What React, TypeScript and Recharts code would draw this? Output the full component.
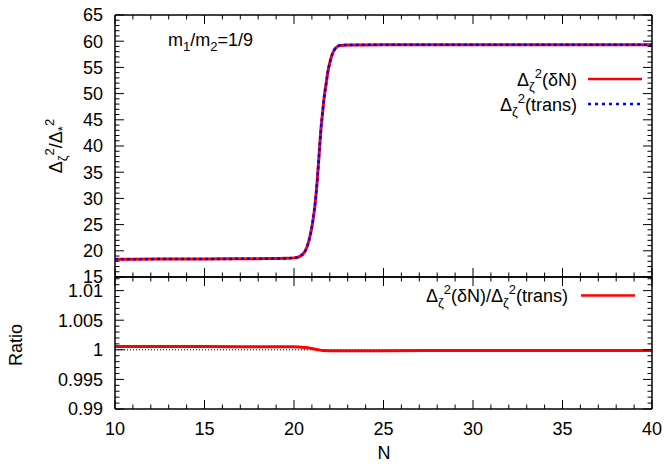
import React from 'react';
import { LineChart, Line, XAxis, YAxis, ReferenceLine } from 'recharts';

// top panel: Delta_zeta^2 / Delta_*^2 vs N
const nCurve = [10, 12, 14, 16, 18, 19, 19.5, 20, 20.3, 20.6, 20.86, 21.0, 21.14, 21.3, 21.42, 21.5, 21.6, 21.69, 21.8, 21.88, 22.0, 22.16, 22.3, 22.45, 22.6, 23, 25, 30, 35, 40];
const deltaN = [18.4, 18.42, 18.44, 18.46, 18.5, 18.53, 18.56, 18.65, 18.9, 19.8, 22.3, 24.6, 27.8, 33.5, 39.2, 43.0, 46.5, 49.4, 52.0, 53.9, 55.9, 57.7, 58.6, 59.05, 59.2, 59.28, 59.3, 59.3, 59.3, 59.3];
const trans = [18.39, 18.41, 18.43, 18.45, 18.49, 18.52, 18.55, 18.64, 18.89, 19.79, 22.29, 24.6, 27.8, 33.5, 39.2, 43.0, 46.5, 49.4, 52.0, 53.9, 55.9, 57.7, 58.6, 59.06, 59.21, 59.29, 59.31, 59.31, 59.31, 59.31];

// bottom panel: ratio
const nRatio = [10, 15, 19, 19.9, 20.3, 20.67, 21.0, 21.3, 21.6, 22, 25, 30, 35, 40];
const ratio = [1.00055, 1.00054, 1.00052, 1.0005, 1.00046, 1.0004, 1.00022, 1.00005, 0.99988, 0.99986, 0.99986, 0.99987, 0.99987, 0.99987];

const xMajor = [10, 15, 20, 25, 30, 35, 40];
const yMajor = [15, 20, 25, 30, 35, 40, 45, 50, 55, 60, 65];
const rMajor = [0.99, 0.995, 1, 1.005, 1.01];
const rLabels = ['0.99', '0.995', '1', '1.005', '1.01'];

const xTicks = Array.from({ length: 31 }, (_, i) => 10 + i);
const yTicks = Array.from({ length: 51 }, (_, i) => 15 + i);
const rTicks = Array.from({ length: 23 }, (_, i) => +(0.99 + i * 0.001).toFixed(3));

const curveData = nCurve.map((n, i) => ({ n, dn: deltaN[i], tr: trans[i] }));
const ratioData = nRatio.map((n, i) => ({ n, r: ratio[i] }));

const FONT = '"Liberation Sans", Arial, Helvetica, sans-serif';
const FS = 18;
const SUB = 13;
const axisLine = { stroke: '#000', strokeWidth: 1.5 };
const MAJ = 9;
const MIN = 4.5;

const isMajor = (v: number, majors: number[]) => majors.findIndex(m => Math.abs(m - v) < 1e-9);

// gnuplot style ticks: pointing into the plot, long for majors, short for minors
function tick(side: 'left' | 'right' | 'top' | 'bottom', majors: number[], labels?: string[]) {
  return (p: any) => {
    const v = p.payload.value;
    const k = isMajor(v, majors);
    const len = k >= 0 ? MAJ : MIN;
    let line;
    if (side === 'left') line = <line x1={p.x} x2={p.x + len} y1={p.y} y2={p.y} stroke="#000" strokeWidth={1} />;
    else if (side === 'right') line = <line x1={p.x} x2={p.x - len} y1={p.y} y2={p.y} stroke="#000" strokeWidth={1} />;
    else if (side === 'top') line = <line x1={p.x} x2={p.x} y1={p.y} y2={p.y + len} stroke="#000" strokeWidth={1} />;
    else line = <line x1={p.x} x2={p.x} y1={p.y} y2={p.y - len} stroke="#000" strokeWidth={1} />;
    let label = null;
    if (labels && k >= 0) {
      if (side === 'left')
        label = <text x={p.x - 12} y={p.y} dy="0.36em" textAnchor="end" fontSize={FS} fontFamily={FONT} fill="#000">{labels[k]}</text>;
      else if (side === 'bottom')
        label = <text x={p.x} y={p.y + 26} textAnchor="middle" fontSize={FS} fontFamily={FONT} fill="#000">{labels[k]}</text>;
    }
    return <g>{line}{label}</g>;
  };
}

const axisCommon = { tickSize: 0.001, tickMargin: 0.001, tickLine: false, axisLine, interval: 0 as const, allowDataOverflow: true };

export default function App() {
  return (
    <div style={{ position: 'absolute', left: 0, top: 0, width: 665, height: 464, background: '#fff' }}>
      <div style={{ position: 'absolute', left: 0, top: 0 }}>
        <LineChart width={665} height={290} margin={{ top: 14, right: 12, bottom: 12, left: 0 }}>
          <XAxis xAxisId="b" dataKey="n" type="number" domain={[10, 40]} ticks={xTicks} height={1} tick={tick('bottom', xMajor)} {...axisCommon} />
          <XAxis xAxisId="t" orientation="top" dataKey="n" type="number" domain={[10, 40]} ticks={xTicks} height={1} tick={tick('top', xMajor)} {...axisCommon} />
          <YAxis yAxisId="l" type="number" domain={[15, 65]} ticks={yTicks} width={115} tick={tick('left', yMajor, yMajor.map(String))} {...axisCommon} />
          <YAxis yAxisId="r" orientation="right" type="number" domain={[15, 65]} ticks={yTicks} width={1} tick={tick('right', yMajor)} {...axisCommon} />
          <Line xAxisId="b" yAxisId="l" data={curveData} dataKey="dn" type="monotone" stroke="#ff0000" strokeWidth={3} dot={false} isAnimationActive={false} />
          <Line xAxisId="b" yAxisId="l" data={curveData} dataKey="tr" type="monotone" stroke="#0000ff" strokeWidth={2.5} strokeDasharray="3 3" dot={false} isAnimationActive={false} />
        </LineChart>
      </div>
      <div style={{ position: 'absolute', left: 0, top: 270 }}>
        <LineChart width={665} height={194} margin={{ top: 6, right: 12, bottom: 54, left: 0 }}>
          <XAxis xAxisId="b" dataKey="n" type="number" domain={[10, 40]} ticks={xTicks} height={1} tick={tick('bottom', xMajor, xMajor.map(String))} {...axisCommon} />
          <XAxis xAxisId="t" orientation="top" dataKey="n" type="number" domain={[10, 40]} ticks={xTicks} height={1} tick={tick('top', xMajor)} {...axisCommon} />
          <YAxis yAxisId="l" type="number" domain={[0.99, 1.0123]} ticks={rTicks} width={115} tick={tick('left', rMajor, rLabels)} {...axisCommon} />
          <YAxis yAxisId="r" orientation="right" type="number" domain={[0.99, 1.0123]} ticks={rTicks} width={1} tick={tick('right', rMajor)} {...axisCommon} />
          <ReferenceLine xAxisId="b" yAxisId="l" y={1} stroke="#000" strokeWidth={1} strokeDasharray="1 2" />
          <Line xAxisId="b" yAxisId="l" data={ratioData} dataKey="r" type="monotone" stroke="#ff0000" strokeWidth={3} dot={false} isAnimationActive={false} />
        </LineChart>
      </div>
      <svg width={665} height={464} style={{ position: 'absolute', left: 0, top: 0, pointerEvents: 'none' }} fontFamily={FONT} fontSize={FS} fill="#000">
        <text x={168} y={46}>m<tspan fontSize={SUB} dy={5}>1</tspan><tspan dy={-5}>/m</tspan><tspan fontSize={SUB} dy={5}>2</tspan><tspan dy={-5}>=1/9</tspan></text>

        <text x={577} y={86} textAnchor="end">Δ<tspan fontSize={SUB} dy={5}>ζ</tspan><tspan fontSize={SUB} dy={-13}>2</tspan><tspan dy={8}>(δN)</tspan></text>
        <line x1={588} x2={642} y1={79} y2={79} stroke="#ff0000" strokeWidth={2.5} />
        <text x={577} y={111} textAnchor="end">Δ<tspan fontSize={SUB} dy={5}>ζ</tspan><tspan fontSize={SUB} dy={-13}>2</tspan><tspan dy={8}>(trans)</tspan></text>
        <line x1={588} x2={642} y1={104} y2={104} stroke="#0000ff" strokeWidth={2.5} strokeDasharray="3 4" />

        <text x={568} y={302} textAnchor="end">Δ<tspan fontSize={SUB} dy={5}>ζ</tspan><tspan fontSize={SUB} dy={-13}>2</tspan><tspan dy={8}>(δN)/Δ</tspan><tspan fontSize={SUB} dy={5}>ζ</tspan><tspan fontSize={SUB} dy={-13}>2</tspan><tspan dy={8}>(trans)</tspan></text>
        <line x1={581} x2={635} y1={295.5} y2={295.5} stroke="#ff0000" strokeWidth={2.5} />

        <text transform="rotate(-90 62 146)" x={62} y={146} textAnchor="middle">Δ<tspan fontSize={SUB} dy={5}>ζ</tspan><tspan fontSize={SUB} dy={-13}>2</tspan><tspan dy={8}>/Δ</tspan><tspan fontSize={SUB} dy={5}>*</tspan><tspan fontSize={SUB} dy={-13}>2</tspan></text>
        <text transform="rotate(-90 22 345)" x={22} y={345} textAnchor="middle">Ratio</text>
        <text x={384} y={459} textAnchor="middle">N</text>
      </svg>
    </div>
  );
}
